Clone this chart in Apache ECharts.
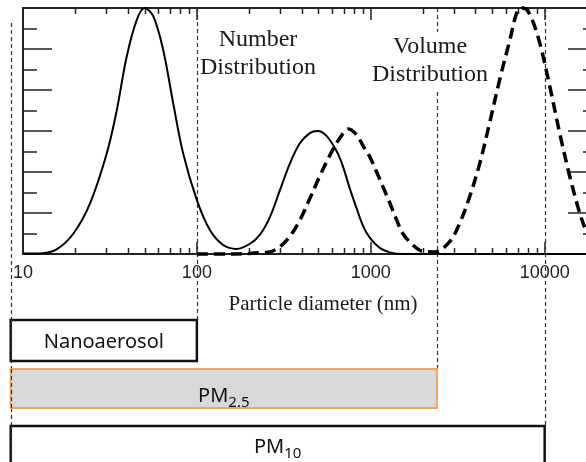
<!DOCTYPE html>
<html><head><meta charset="utf-8">
<script src="https://cdn.jsdelivr.net/npm/echarts@6/dist/echarts.min.js"></script>
<style>html,body{margin:0;padding:0;background:#fff}#c{width:586px;height:462px}</style>
</head><body><div id="c"></div>
<script>
// ---- data ----
const xTickLabels = ['10', '100', '1000', '10000'];
const numberDiam = [10, 12.5, 15.6, 19.5, 24.3, 30.3, 34.6, 39.4, 45, 50, 56.1, 64, 73.1, 83.4, 100, 118.8, 141.6, 169, 202, 230, 263, 300, 342, 391, 446, 496, 558, 638, 690, 757, 831, 900, 986, 1126, 1285, 1528, 20000];
const numberConc = [0.02, 0.03, 0.23, 1.0, 2.47, 4.9, 7.0, 9.6, 11.4, 12, 11.6, 9.95, 7.35, 4.9, 2.63, 1.17, 0.44, 0.25, 0.5, 0.93, 1.8, 3.1, 4.4, 5.4, 5.9, 6.0, 5.75, 5.0, 4.3, 3.2, 2.2, 1.4, 0.8, 0.3, 0.08, 0, 0];
const volumeDiam = [100, 155, 202, 239, 263, 300, 342, 391, 446, 509, 581, 663, 747, 831, 900, 986, 1081, 1172, 1285, 1410, 1528, 1743, 1990, 2334, 2843, 3246, 3705, 4229, 4827, 5510, 6290, 6998, 7482, 8203, 9364, 10690, 12200, 13930, 15900, 16980];
const volumeConc = [0, 0, 0.03, 0.07, 0.1, 0.35, 0.85, 1.65, 2.7, 3.8, 4.8, 5.65, 6.1, 5.8, 5.3, 4.75, 4.0, 3.3, 2.5, 1.65, 1.0, 0.44, 0.13, 0.1, 0.6, 1.5, 2.8, 4.4, 6.4, 8.5, 10.4, 11.9, 12, 11.7, 10.3, 8.2, 5.9, 3.8, 2.0, 1.3];
const minorTickValues = [20, 30, 40, 50, 60, 70, 80, 90, 200, 300, 400, 500, 600, 700, 800, 900, 2000, 3000, 4000, 5000, 6000, 7000, 8000, 9000];
const rangeNames = ['Nanoaerosol', 'PM2.5', 'PM10'];
const rangeStart = [8.5, 8.5, 8.5];
const rangeEnd = [100, 2400, 10000];
const cutoffLines = [8.5, 100, 2400, 10000];
const annotationNumber = 'Number\nDistribution';
const annotationVolume = 'Volume\nDistribution';
const xAxisTitle = 'Particle diameter (nm)';

// ---- layout / style (not data) ----
const boxTop = [320, 369, 426];
const boxBottom = [361, 408, 478];
const boxTextY = [342, 396, 447];
const boxFill = ['#ffffff', '#d9d9d9', '#ffffff'];
const boxStroke = ['#111111', '#f4a460', '#111111'];
const boxLineWidth = [2.5, 2, 2.5];
const cutTop = [23, null, null, null];   // null => top of plot
const cutBottom = [462, 320, 369, 426];
const AX = '#222';
const SANS = '"Noto Sans", "Open Sans", sans-serif';
const SERIF = '"Liberation Serif", "DejaVu Serif", serif';

const chart = echarts.init(document.getElementById('c'), null, {renderer: 'canvas'});

function richName(n) {
  const m = n.match(/^PM(.+)$/);
  return m ? '{m|PM}{s|' + m[1] + '}' : '{m|' + n + '}';
}

const common = {
  type: 'log', logBase: 10, min: 10, max: 20000, gridIndex: 0,
  splitLine: {show: false},
  axisLine: {show: true, onZero: false, lineStyle: {color: AX, width: 2}},
  axisTick: {show: true, inside: true, length: 12, lineStyle: {color: AX, width: 1.5}}
};

const option = {
  backgroundColor: '#fff',
  animation: false,
  grid: [{left: 23, top: 8, width: 574, height: 246, containLabel: false, outerBoundsMode: 'none'}],
  xAxis: [
    Object.assign({}, common, {
      position: 'bottom',
      axisLabel: {
        show: true, margin: 10, fontSize: 18, fontFamily: '"Liberation Sans", Arial, sans-serif', color: AX,
        showMaxLabel: false,
        formatter: function (v) {
          const r = Math.round(v);
          const hit = xTickLabels.find(function (l) { return +l === r; });
          return hit || '';
        }
      }
    }),
    Object.assign({}, common, {position: 'top', axisLabel: {show: false}})
  ],
  yAxis: [0, 1].map(function (i) {
    return {
      type: 'value', min: 0, max: 12, interval: 2, position: i === 0 ? 'left' : 'right', gridIndex: 0,
      axisLine: {show: true, lineStyle: {color: AX, width: 2}},
      axisTick: {show: true, inside: true, length: 29, lineStyle: {color: AX, width: 1.5}},
      minorTick: {show: true, splitNumber: 2, length: 14, lineStyle: {color: AX, width: 1.5}},
      axisLabel: {show: false},
      splitLine: {show: false}
    };
  }),
  graphic: [
    {type: 'text', x: 258, y: 54, z: 5, style: {text: annotationNumber, fontSize: 24, fontFamily: SERIF, fill: '#1a1a1a', align: 'center', verticalAlign: 'middle', lineHeight: 28}},
    {type: 'text', x: 430, y: 61, z: 5, style: {text: annotationVolume, fontSize: 24, fontFamily: SERIF, fill: '#1a1a1a', align: 'center', verticalAlign: 'middle', lineHeight: 28, backgroundColor: '#fff', padding: [1, 2, 1, 2]}},
    {type: 'text', x: 323, y: 304, z: 5, style: {text: xAxisTitle, fontSize: 21, fontFamily: SERIF, fill: '#1a1a1a', align: 'center', verticalAlign: 'middle'}}
  ],
  series: [
    {
      type: 'custom', name: 'cutoffs', xAxisIndex: 0, yAxisIndex: 0, z: 1, silent: true,
      data: cutoffLines.map(function (v) { return [v, 0]; }),
      encode: {x: 0, y: 1},
      renderItem: function (params, api) {
        const i = params.dataIndex;
        const x = Math.round(api.coord([api.value(0), 0])[0]) + 0.5;
        const yTop = cutTop[i] == null ? api.coord([api.value(0), 12])[1] : cutTop[i];
        return {type: 'line', shape: {x1: x, y1: yTop, x2: x, y2: cutBottom[i]},
          style: {stroke: '#333', lineWidth: 1.2, lineDash: [4, 3]}};
      }
    },
    {
      type: 'custom', name: 'minorTicks', xAxisIndex: 0, yAxisIndex: 0, z: 4, silent: true,
      data: minorTickValues.map(function (v) { return [v, 0]; }),
      encode: {x: 0, y: 1},
      renderItem: function (params, api) {
        const x = Math.round(api.coord([api.value(0), 0])[0]) + 0.5;
        const yb = api.coord([api.value(0), 0])[1];
        const yt = api.coord([api.value(0), 12])[1];
        const st = {stroke: AX, lineWidth: 1.5};
        return {type: 'group', children: [
          {type: 'line', shape: {x1: x, y1: yb, x2: x, y2: yb - 6}, style: st},
          {type: 'line', shape: {x1: x, y1: yt, x2: x, y2: yt + 6}, style: st}
        ]};
      }
    },
    {
      type: 'custom', name: 'ranges', xAxisIndex: 0, yAxisIndex: 0, z: 3, silent: true,
      data: rangeNames.map(function (n, i) { return [rangeStart[i], rangeEnd[i], 0]; }),
      encode: {x: [0, 1], y: 2},
      renderItem: function (params, api) {
        const i = params.dataIndex;
        const x0 = api.coord([api.value(0), 0])[0];
        const x1 = api.coord([api.value(1), 0])[0];
        return {type: 'group', children: [
          {type: 'rect', shape: {x: x0, y: boxTop[i], width: x1 - x0, height: boxBottom[i] - boxTop[i]},
            style: {fill: boxFill[i], stroke: boxStroke[i], lineWidth: boxLineWidth[i]}},
          {type: 'line', shape: {x1: 11.5, y1: boxTop[i], x2: 11.5, y2: boxBottom[i]},
            style: {stroke: '#333', lineWidth: 1.2, lineDash: [4, 3]}},
          {type: 'text', x: (x0 + x1) / 2, y: boxTextY[i],
            style: {text: richName(rangeNames[i]), align: 'center', verticalAlign: 'middle', fill: '#111',
              rich: {
                m: {fontSize: 20, fontFamily: SANS, fill: '#111'},
                s: {fontSize: 15, fontFamily: SANS, fill: '#111', padding: [14, 0, 0, 0]}
              }}}
        ]};
      }
    },
    {
      type: 'line', name: 'Number Distribution', xAxisIndex: 0, yAxisIndex: 0, z: 6,
      data: numberDiam.map(function (d, i) { return [d, numberConc[i]]; }),
      smooth: 0.35, symbol: 'none', clip: false,
      lineStyle: {color: '#000', width: 2}
    },
    {
      type: 'line', name: 'Volume Distribution', xAxisIndex: 0, yAxisIndex: 0, z: 6,
      data: volumeDiam.map(function (d, i) { return [d, volumeConc[i]]; }),
      smooth: 0.35, symbol: 'none', clip: false,
      lineStyle: {color: '#000', width: 3.5, type: [11, 6], cap: 'butt'}
    }
  ]
};
chart.setOption(option);
</script>
</body></html>
